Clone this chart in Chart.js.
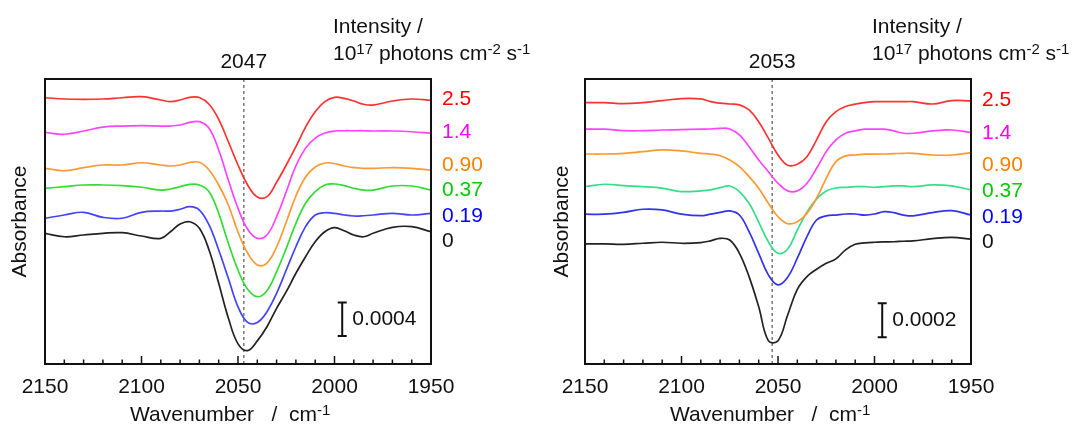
<!DOCTYPE html>
<html>
<head>
<meta charset="utf-8">
<script src="https://cdn.jsdelivr.net/npm/chart.js@4.4.1/dist/chart.umd.min.js"></script>
<style>
  html, body { margin: 0; padding: 0; background: #fff; }
  #wrap { position: relative; width: 1083px; height: 426px; }
  canvas { position: absolute; top: 0; }
</style>
</head>
<body>
<div id="wrap">
  <canvas id="chart-left" width="540" height="426" style="left:0"></canvas>
  <canvas id="chart-right" width="543" height="426" style="left:540px"></canvas>
</div>
<script>
// wavenumber grid (cm-1), shared by all traces
var wavenumbers = [2150, 2140, 2130, 2120, 2110, 2100, 2090, 2085, 2080, 2075, 2070, 2065, 2060, 2055, 2050, 2045,
  2040, 2035, 2030, 2025, 2020, 2015, 2010, 2005, 2000, 1995, 1990, 1985, 1980, 1970, 1960, 1950];

// absorbance in units of 1e-4, each trace already offset for stacking
var leftRed = [31.70, 31.55, 31.51, 31.55, 31.70, 31.82, 31.43, 31.23, 31.43, 31.75, 31.73, 30.92, 29.13, 26.46, 23.69, 21.31,
  19.88, 19.92, 21.63, 23.69, 25.87, 28.21, 30.04, 31.23, 31.75, 31.63, 31.31, 30.92, 30.83, 31.31, 31.55, 31.39];
var leftMagenta = [27.58, 27.35, 27.74, 28.21, 28.33, 28.37, 28.33, 28.33, 28.45, 28.77, 28.85, 28.06, 25.48, 21.90, 18.54, 16.04,
  14.96, 15.36, 17.54, 20.51, 23.60, 25.70, 26.90, 27.50, 27.74, 27.77, 27.77, 27.77, 27.74, 27.74, 27.65, 27.46];
var leftOrange = [23.30, 23.01, 23.37, 23.69, 23.69, 23.96, 23.69, 23.57, 23.69, 23.99, 24.01, 23.10, 21.31, 18.93, 15.71, 13.21,
  11.79, 12.02, 13.93, 16.90, 20.00, 22.26, 23.45, 23.93, 23.87, 23.57, 23.37, 23.30, 23.30, 23.37, 23.30, 23.10];
var leftGreen = [20.92, 21.11, 21.31, 21.31, 21.23, 21.04, 20.71, 20.83, 21.11, 21.39, 21.31, 20.51, 17.94, 14.37, 11.19, 8.89,
  8.01, 8.73, 10.99, 13.77, 16.75, 19.13, 20.51, 21.31, 21.43, 21.23, 20.92, 20.71, 20.71, 21.19, 21.19, 20.71];
var leftBlue = [17.35, 17.74, 18.06, 17.46, 17.35, 18.06, 18.21, 18.21, 18.42, 18.73, 18.33, 16.55, 13.57, 10.20, 6.80, 4.95,
  4.95, 6.23, 8.42, 11.19, 13.96, 16.35, 17.74, 18.01, 17.94, 17.74, 17.62, 17.65, 17.74, 17.94, 17.74, 17.94];
var leftBlack = [15.56, 15.15, 15.36, 15.56, 15.63, 15.24, 14.96, 15.75, 16.67, 16.94, 16.15, 13.57, 9.61, 5.48, 2.40, 1.60,
  2.75, 4.44, 6.63, 8.61, 10.80, 12.77, 14.56, 15.75, 16.23, 15.87, 15.36, 15.15, 15.56, 16.27, 16.35, 15.75];

var rightRed = [15.37, 15.37, 15.31, 15.37, 15.49, 15.61, 15.59, 15.43, 15.34, 15.29, 15.24, 14.94, 14.25, 13.28, 12.29, 11.69,
  11.75, 12.19, 13.18, 14.25, 14.84, 15.14, 15.28, 15.37, 15.43, 15.43, 15.43, 15.43, 15.43, 15.29, 15.49, 15.47];
var rightMagenta = [13.81, 13.81, 13.72, 13.72, 13.76, 13.78, 13.81, 13.82, 13.86, 13.82, 13.47, 12.78, 12.00, 11.31, 10.63, 10.18,
  10.18, 10.63, 11.51, 12.49, 13.18, 13.57, 13.71, 13.81, 13.81, 13.81, 13.71, 13.57, 13.57, 13.71, 13.76, 13.61];
var rightOrange = [12.35, 12.35, 12.39, 12.49, 12.59, 12.53, 12.39, 12.34, 12.25, 12.00, 11.61, 11.02, 10.34, 9.45, 8.66, 8.25,
  8.37, 8.86, 9.75, 10.92, 11.90, 12.24, 12.29, 12.34, 12.34, 12.35, 12.37, 12.39, 12.39, 12.29, 12.29, 12.43];
var rightGreen = [10.43, 10.57, 10.49, 10.43, 10.34, 10.14, 10.18, 10.24, 10.37, 10.47, 10.14, 9.45, 8.35, 7.19, 6.51, 6.76,
  7.88, 8.94, 9.71, 10.18, 10.35, 10.39, 10.43, 10.43, 10.39, 10.43, 10.47, 10.47, 10.43, 10.53, 10.47, 10.24];
var rightBlue = [8.81, 8.81, 8.92, 9.10, 9.06, 8.81, 8.72, 8.81, 8.92, 9.00, 8.76, 7.78, 6.51, 5.24, 4.65, 5.10,
  6.22, 7.49, 8.47, 8.71, 8.76, 8.82, 8.82, 8.76, 8.82, 8.96, 8.90, 8.76, 8.71, 8.90, 9.02, 8.76];
var rightBlack = [7.06, 7.06, 7.04, 7.10, 7.16, 7.10, 7.14, 7.24, 7.39, 7.29, 6.51, 5.14, 3.37, 1.37, 1.37, 2.88,
  4.39, 5.14, 5.57, 5.92, 6.18, 6.71, 7.04, 7.12, 7.16, 7.18, 7.19, 7.22, 7.24, 7.37, 7.45, 7.34];

// photon flux, 1e17 photons cm-2 s-1
var intensityLabels = ["2.5", "1.4", "0.90", "0.37", "0.19", "0"];

var leftLineColors = ["#ff3333", "#ff44ff", "#ff9933", "#33dd33", "#4444ff", "#222222"];
var rightLineColors = ["#ff3333", "#ff44ff", "#ff9933", "#33e088", "#3333ee", "#222222"];
var labelColors = ["#ff0000", "#ff00ff", "#ff8000", "#00cc00", "#0000ff", "#111111"];

var FONT = "'Liberation Sans', Arial, sans-serif";
var TEXT_SIZE = 21;

// draws a run of text pieces, where [text, true] is a superscript
function richText(ctx, parts, x, y, size, align) {
  var supSize = Math.round(size * 0.7);
  var w = 0;
  parts.forEach(function (p) {
    ctx.font = (p[1] ? supSize : size) + "px " + FONT;
    w += ctx.measureText(p[0]).width;
  });
  var cx = align === "center" ? x - w / 2 : x;
  ctx.textAlign = "left";
  ctx.textBaseline = "alphabetic";
  parts.forEach(function (p) {
    ctx.font = (p[1] ? supSize : size) + "px " + FONT;
    ctx.fillText(p[0], cx, p[1] ? y - size * 0.27 : y);
    cx += ctx.measureText(p[0]).width;
  });
}

var panelDecor = {
  id: "panelDecor",
  beforeDatasetsDraw: function (chart, args, o) {
    var ctx = chart.ctx;
    var a = chart.chartArea;
    var x = chart.scales.x.getPixelForValue(o.peak);
    ctx.save();
    ctx.strokeStyle = "#808080";
    ctx.lineWidth = 1.6;
    ctx.setLineDash([3, 3]);
    ctx.beginPath();
    ctx.moveTo(x, a.top);
    ctx.lineTo(x, a.bottom);
    ctx.stroke();
    ctx.restore();
  },
  afterDraw: function (chart, args, o) {
    var ctx = chart.ctx;
    var a = chart.chartArea;
    var xs = chart.scales.x;
    var ys = chart.scales.y;
    ctx.save();

    // frame
    ctx.strokeStyle = "#111";
    ctx.lineWidth = 2;
    ctx.strokeRect(a.left, a.top, a.right - a.left, a.bottom - a.top);

    // inward ticks every 10 cm-1, longer every 50
    ctx.lineWidth = 1.5;
    for (var v = 1950; v <= 2150; v += 10) {
      var px = xs.getPixelForValue(v);
      var len = v % 50 === 0 ? 8 : 4.5;
      ctx.beginPath();
      ctx.moveTo(px, a.bottom);
      ctx.lineTo(px, a.bottom - len);
      ctx.stroke();
    }

    // absorbance scale bar
    var bx = xs.getPixelForValue(o.barAt);
    var b0 = ys.getPixelForValue(o.barFrom);
    var b1 = ys.getPixelForValue(o.barFrom + o.barSize);
    ctx.lineWidth = 2;
    ctx.beginPath();
    ctx.moveTo(bx, b0); ctx.lineTo(bx, b1);
    ctx.moveTo(bx - 4.5, b0); ctx.lineTo(bx + 4.5, b0);
    ctx.moveTo(bx - 4.5, b1); ctx.lineTo(bx + 4.5, b1);
    ctx.stroke();
    ctx.fillStyle = "#111";
    ctx.font = TEXT_SIZE + "px " + FONT;
    ctx.textAlign = "left";
    ctx.textBaseline = "middle";
    ctx.fillText((o.barSize * 1e-4).toFixed(4), bx + 10, (b0 + b1) / 2);

    // intensity labels at the end of each trace
    chart.data.datasets.forEach(function (ds, i) {
      var last = ds.data[ds.data.length - 1].y;
      ctx.fillStyle = labelColors[i];
      ctx.fillText(intensityLabels[i], a.right + 11, ys.getPixelForValue(last) + o.labelShift[i]);
    });

    // peak position above the frame
    ctx.fillStyle = "#111";
    ctx.textAlign = "center";
    ctx.textBaseline = "alphabetic";
    ctx.font = TEXT_SIZE + "px " + FONT;
    ctx.fillText(String(o.peak), xs.getPixelForValue(o.peak), 68);

    // legend heading
    richText(ctx, [["Intensity /", false]], o.headX, 33, TEXT_SIZE, "left");
    richText(ctx, [["10", false], ["17", true], [" photons cm", false], ["-2", true], [" s", false], ["-1", true]],
      o.headX, 60, TEXT_SIZE, "left");

    // axis titles
    richText(ctx, [["Wavenumber   /  cm", false], ["-1", true]], a.left + 85, 421, TEXT_SIZE, "left");
    ctx.translate(o.yTitleX, (a.top + a.bottom) / 2);
    ctx.rotate(-Math.PI / 2);
    ctx.font = TEXT_SIZE + "px " + FONT;
    ctx.textAlign = "center";
    ctx.textBaseline = "middle";
    ctx.fillText("Absorbance", 0, 0);
    ctx.restore();
  },
};

function makePanel(id, series, colors, yMax, deco) {
  var ctx = document.getElementById(id).getContext("2d");
  return new Chart(ctx, {
    type: "line",
    data: {
      datasets: series.map(function (s, i) {
        return {
          label: intensityLabels[i],
          data: wavenumbers.map(function (w, j) { return { x: w, y: s[j] }; }),
          borderColor: colors[i],
          borderWidth: 1.7,
          pointRadius: 0,
          tension: 0.4,
          fill: false,
        };
      }),
    },
    options: {
      responsive: false,
      animation: false,
      events: [],
      layout: {
        padding: { left: 45, right: ctx.canvas.width - 431, top: 79, bottom: 0 },
      },
      plugins: {
        legend: { display: false },
        tooltip: { enabled: false },
        panelDecor: deco,
      },
      scales: {
        x: {
          type: "linear",
          reverse: true,
          min: 1950,
          max: 2150,
          afterFit: function (scale) { scale.height = 62; },
          grid: { display: false, drawTicks: false },
          border: { display: false },
          ticks: {
            stepSize: 50,
            padding: 11,
            color: "#111",
            maxRotation: 0,
            autoSkip: false,
            font: { size: TEXT_SIZE, family: FONT },
            callback: function (value) { return String(value); },
          },
        },
        y: {
          display: false,
          min: 0,
          max: yMax,
        },
      },
    },
    plugins: [panelDecor],
  });
}

makePanel("chart-left", [leftRed, leftMagenta, leftOrange, leftGreen, leftBlue, leftBlack], leftLineColors, 33.93, {
  peak: 2047,
  barAt: 1996,
  barFrom: 3.33,
  barSize: 4,
  headX: 333,
  yTitleX: 20,
  labelShift: [-1.6, -1.6, -5, 0, 2.7, 9.6],
});

makePanel("chart-right", [rightRed, rightMagenta, rightOrange, rightGreen, rightBlue, rightBlack], rightLineColors, 16.76, {
  peak: 2053,
  barAt: 1996,
  barFrom: 1.57,
  barSize: 2,
  headX: 332,
  yTitleX: 22,
  labelShift: [-1, 0.7, 12.3, 1.8, 1.9, 3.1],
});
</script>
</body>
</html>
